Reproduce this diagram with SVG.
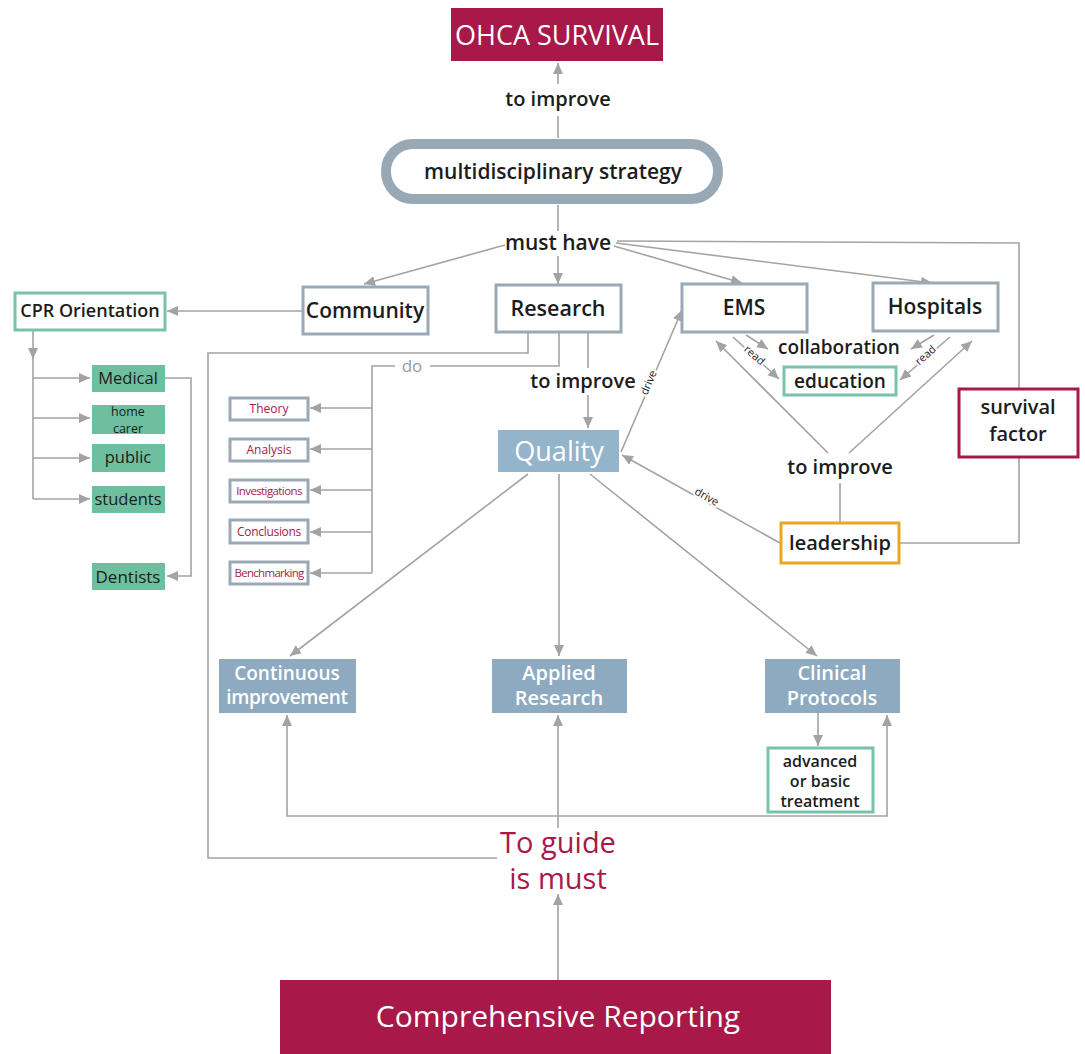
<svg xmlns="http://www.w3.org/2000/svg" width="1085" height="1054" viewBox="0 0 1085 1054">
<style>
.t{font-family:"Open Sans","Liberation Sans",sans-serif;text-anchor:middle}
.dk{fill:#1c1c1c;font-weight:600}
.wh{fill:#ffffff}
.cr{fill:#a8194a}
.ln{fill:none;stroke:#a3a3a3;stroke-width:1.6}
.bx{fill:#ffffff;stroke:#9aa9b5;stroke-width:3}
.tl{fill:#ffffff;stroke:#78c3a8;stroke-width:3}
.gr{fill:#6ebf9f}
.sb{fill:#8eaac0}
.lbl{font-family:"Open Sans","Liberation Sans",sans-serif;font-size:11px;fill:#1c1c1c;text-anchor:middle;paint-order:stroke;stroke:#fff;stroke-width:4}
</style>
<defs>
<marker id="a" markerUnits="userSpaceOnUse" markerWidth="12" markerHeight="12" refX="11" refY="5" orient="auto" viewBox="0 0 12 10">
<path d="M0,0 L11,5 L0,10 z" fill="#a3a3a3"/>
</marker>
</defs>
<rect width="1085" height="1054" fill="#ffffff"/>
<g id="connectors">
<path class="ln" d="M558 138 L558 116"/>
<path class="ln" d="M558 84 L558 63" marker-end="url(#a)"/>
<path class="ln" d="M558 205 L558 231"/>
<path class="ln" d="M558 256 L558 284" marker-end="url(#a)"/>
<path class="ln" d="M505 245 L364 284" marker-end="url(#a)"/>
<path class="ln" d="M614 246 L742 283" marker-end="url(#a)"/>
<path class="ln" d="M616 243 L932 283" marker-end="url(#a)"/>
<path class="ln" d="M617 241 L1019 243 L1019 543 L900 543"/>
<path class="ln" d="M302 311 L167 311" marker-end="url(#a)"/>
<path class="ln" d="M33 330 L33 359" marker-end="url(#a)"/>
<path class="ln" d="M33 358 L33 499"/>
<path class="ln" d="M33 378 L90 378" marker-end="url(#a)"/>
<path class="ln" d="M33 418 L90 418" marker-end="url(#a)"/>
<path class="ln" d="M33 458 L90 458" marker-end="url(#a)"/>
<path class="ln" d="M33 499 L90 499" marker-end="url(#a)"/>
<path class="ln" d="M165 378 L191 378 L191 576 L167 576" marker-end="url(#a)"/>
<path class="ln" d="M528 333 L528 353 L208 353 L208 858 L497 858"/>
<path class="ln" d="M559 333 L559 366 L430 366"/>
<path class="ln" d="M395 366 L372 366 L372 573"/>
<path class="ln" d="M372 408 L310 408" marker-end="url(#a)"/>
<path class="ln" d="M372 449 L310 449" marker-end="url(#a)"/>
<path class="ln" d="M372 490 L310 490" marker-end="url(#a)"/>
<path class="ln" d="M372 532 L310 532" marker-end="url(#a)"/>
<path class="ln" d="M372 573 L310 573" marker-end="url(#a)"/>
<path class="ln" d="M588 333 L588 368"/>
<path class="ln" d="M588 395 L588 428" marker-end="url(#a)"/>
<path class="ln" d="M621 452 L682 310" marker-end="url(#a)"/>
<path class="ln" d="M780 543 L622 455" marker-end="url(#a)"/>
<path class="ln" d="M528 474 L290 656" marker-end="url(#a)"/>
<path class="ln" d="M559 474 L559 656" marker-end="url(#a)"/>
<path class="ln" d="M590 474 L817 656" marker-end="url(#a)"/>
<path class="ln" d="M818 713 L818 746" marker-end="url(#a)"/>
<path class="ln" d="M558 828 L558 715" marker-end="url(#a)"/>
<path class="ln" d="M558 816 L287 816 L287 715" marker-end="url(#a)"/>
<path class="ln" d="M558 816 L887 816 L887 715" marker-end="url(#a)"/>
<path class="ln" d="M558 980 L558 894" marker-end="url(#a)"/>
<path class="ln" d="M746 335 L768 349" marker-end="url(#a)"/>
<path class="ln" d="M733 337 L779 379" marker-end="url(#a)"/>
<path class="ln" d="M934 335 L911 349" marker-end="url(#a)"/>
<path class="ln" d="M950 337 L900 380" marker-end="url(#a)"/>
<path class="ln" d="M828 453 L716 341" marker-end="url(#a)"/>
<path class="ln" d="M849 453 L972 341" marker-end="url(#a)"/>
<path class="ln" d="M840 523 L840 483"/>
<text class="lbl" transform="translate(652 384) rotate(-67)">drive</text>
<text class="lbl" transform="translate(705 500) rotate(29)">drive</text>
<text class="lbl" transform="translate(752 358) rotate(42)">read</text>
<text class="lbl" transform="translate(928 358) rotate(-42)">read</text>
</g>
<g id="ohca"><rect x="451" y="8" width="212" height="53" fill="#a8194a"/><text class="t wh" x="557" y="45" font-size="27">OHCA SURVIVAL</text></g>
<g id="to-improve-top"><text class="t dk" x="558" y="106" font-size="20">to improve</text></g>
<g id="strategy"><rect x="386" y="144" width="332" height="55" rx="27" fill="#fff" stroke="#98a8b5" stroke-width="10"/><text class="t dk" x="553" y="179" font-size="21">multidisciplinary strategy</text></g>
<g id="must-have"><text class="t dk" x="558" y="250" font-size="21">must have</text></g>
<g id="community"><rect class="bx" x="303" y="287" width="125" height="47"/><text class="t dk" x="365" y="318" font-size="21">Community</text></g>
<g id="research"><rect class="bx" x="496" y="285" width="125" height="47"/><text class="t dk" x="558" y="316" font-size="21.5">Research</text></g>
<g id="ems"><rect class="bx" x="682" y="284" width="125" height="48"/><text class="t dk" x="744" y="315" font-size="21">EMS</text></g>
<g id="hospitals"><rect class="bx" x="873" y="283" width="125" height="48"/><text class="t dk" x="935" y="314" font-size="21">Hospitals</text></g>
<g id="cpr"><rect class="tl" x="15" y="293" width="150" height="37"/><text class="t dk" x="90" y="317" font-size="18">CPR Orientation</text></g>
<g id="medical"><rect class="gr" x="92" y="365" width="73" height="27"/><text class="t" x="128" y="384" font-size="16.5" fill="#1c1c1c">Medical</text></g>
<g id="home-carer"><rect class="gr" x="92" y="405" width="73" height="29"/><text class="t" x="128" y="416" font-size="12.5" fill="#1c1c1c">home</text><text class="t" x="128" y="433" font-size="12.5" fill="#1c1c1c">carer</text></g>
<g id="public"><rect class="gr" x="92" y="444" width="73" height="28"/><text class="t" x="128" y="463" font-size="16.5" fill="#1c1c1c">public</text></g>
<g id="students"><rect class="gr" x="92" y="486" width="73" height="27"/><text class="t" x="128" y="505" font-size="16.5" fill="#1c1c1c">students</text></g>
<g id="dentists"><rect class="gr" x="92" y="563" width="73" height="27"/><text class="t" x="128" y="583" font-size="17" fill="#1c1c1c">Dentists</text></g>
<g id="do"><text class="t" x="412" y="372" font-size="17" fill="#9a9a9a">do</text></g>
<g id="theory"><rect class="bx" x="230" y="398" width="78" height="22" stroke-width="2.5"/><text class="t cr" x="269" y="413" font-size="12">Theory</text></g>
<g id="analysis"><rect class="bx" x="230" y="439" width="78" height="22" stroke-width="2.5"/><text class="t cr" x="269" y="454" font-size="12">Analysis</text></g>
<g id="investigations"><rect class="bx" x="230" y="480" width="78" height="22" stroke-width="2.5"/><text class="t cr" x="269" y="495" font-size="11.5" letter-spacing="-0.6">Investigations</text></g>
<g id="conclusions"><rect class="bx" x="230" y="520" width="78" height="23" stroke-width="2.5"/><text class="t cr" x="269" y="536" font-size="12" letter-spacing="-0.3">Conclusions</text></g>
<g id="benchmarking"><rect class="bx" x="230" y="562" width="78" height="22" stroke-width="2.5"/><text class="t cr" x="269" y="577" font-size="11.5" letter-spacing="-0.7">Benchmarking</text></g>
<g id="to-improve-mid"><text class="t dk" x="583" y="388" font-size="20">to improve</text></g>
<g id="quality"><rect x="498" y="430" width="121" height="42" fill="#94b4cc"/><text class="t wh" x="559" y="461" font-size="27">Quality</text></g>
<g id="collaboration"><text class="t dk" x="839" y="354" font-size="19">collaboration</text></g>
<g id="education"><rect class="tl" x="784" y="367" width="112" height="28"/><text class="t dk" x="840" y="388" font-size="19">education</text></g>
<g id="to-improve-right"><text class="t dk" x="840" y="474" font-size="20">to improve</text></g>
<g id="leadership"><rect x="781" y="523" width="118" height="40" fill="#fff" stroke="#e9a823" stroke-width="3"/><text class="t dk" x="840" y="550" font-size="20">leadership</text></g>
<g id="survival-factor"><rect x="959" y="389" width="119" height="68" fill="#fff" stroke="#a8194a" stroke-width="3"/><text class="t dk" x="1018" y="414" font-size="20">survival</text><text class="t dk" x="1018" y="441" font-size="20">factor</text></g>
<g id="continuous"><rect class="sb" x="219" y="659" width="137" height="54"/><text class="t wh" x="287" y="680" font-size="19" font-weight="600">Continuous</text><text class="t wh" x="287" y="704" font-size="19" font-weight="600" letter-spacing="-0.3">improvement</text></g>
<g id="applied"><rect class="sb" x="492" y="659" width="135" height="54"/><text class="t wh" x="559" y="680" font-size="20" font-weight="600">Applied</text><text class="t wh" x="559" y="705" font-size="20" font-weight="600">Research</text></g>
<g id="clinical"><rect class="sb" x="765" y="659" width="135" height="54"/><text class="t wh" x="832" y="680" font-size="20" font-weight="600">Clinical</text><text class="t wh" x="832" y="705" font-size="20" font-weight="600">Protocols</text></g>
<g id="advanced"><rect class="tl" x="768" y="748" width="105" height="64"/><text class="t dk" x="820" y="767" font-size="16">advanced</text><text class="t dk" x="820" y="787" font-size="16">or basic</text><text class="t dk" x="820" y="807" font-size="16">treatment</text></g>
<g id="to-guide"><text class="t cr" x="558" y="853" font-size="29">To guide</text><text class="t cr" x="558" y="889" font-size="29">is must</text></g>
<g id="reporting"><rect x="280" y="980" width="551" height="74" fill="#a8194a"/><text class="t wh" x="558" y="1027" font-size="30">Comprehensive Reporting</text></g>
</svg>
